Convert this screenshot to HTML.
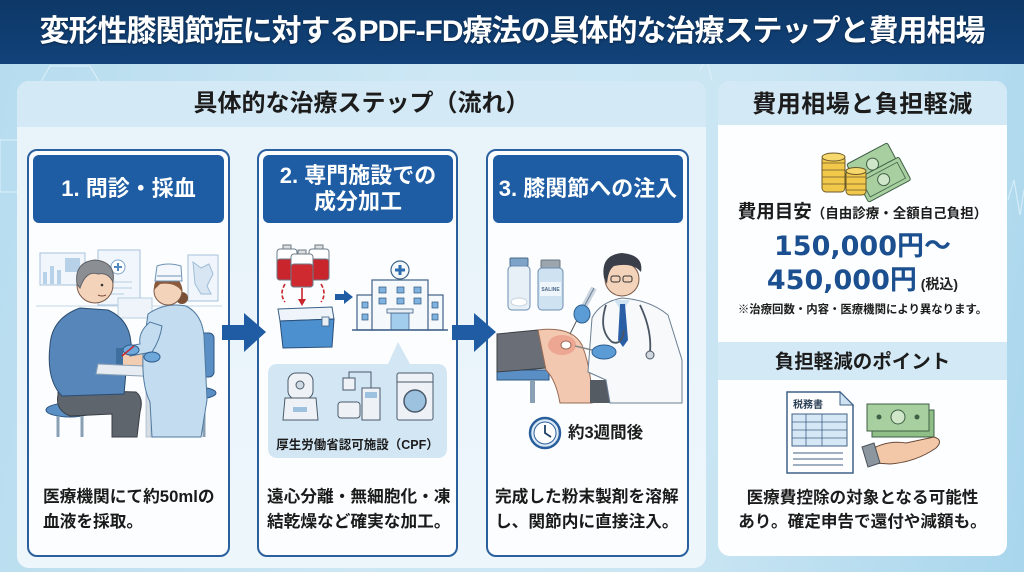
<!DOCTYPE html>
<html><head><meta charset="utf-8">
<style>
*{margin:0;padding:0;box-sizing:border-box}
html,body{width:1024px;height:572px;overflow:hidden}
body{position:relative;font-family:"Liberation Sans","Noto Sans CJK JP",sans-serif;font-weight:bold;color:#1c1c1c;
background:linear-gradient(100deg,#b6dcef 0%,#cde7f4 40%,#c9e5f3 70%,#a9d6ed 100%);}
.abs{position:absolute}
.title{left:0;top:0;width:1024px;height:64px;background:linear-gradient(180deg,#0d3867,#12427a);color:#fff;font-size:30px;line-height:64px;text-align:center;letter-spacing:-1px;text-shadow:0 1px 2px rgba(0,0,0,.4)}
.panel{border-radius:12px;overflow:hidden}
.card{background:#fbfdfe;border:2px solid #2b609f;border-radius:10px}
.chead{background:#1e5ca3;border-radius:6px;color:#fff;font-size:22px;text-align:center;display:flex;align-items:center;justify-content:center;line-height:26px}
.ctext{font-size:16.7px;line-height:25px;white-space:nowrap;color:#1a1a1a}
</style></head><body>

<svg class="abs" style="left:0;top:0" width="1024" height="572">
 <g fill="none" stroke="#e6f4fb" stroke-width="1.2" opacity=".7">
  <polygon points="50,66 90,66 105,92 90,118 50,118 35,92"/>
  <polygon points="0,140 20,140 35,166 20,192 0,192"/>
  <polyline points="1008,200 1014,180 1020,215 1024,190"/>
  <polyline points="700,70 706,58 712,80"/>
 </g>
</svg>

<div class="abs title">変形性膝関節症に対するPDF-FD療法の具体的な治療ステップと費用相場</div>

<!-- left panel -->
<div class="abs panel" style="left:17px;top:81px;width:689px;height:487px;background:linear-gradient(180deg,#e7f3fa,#edf6fb)">
 <div style="height:46px;background:#d3e9f5"></div>
</div>
<div class="abs" style="left:17px;top:81px;width:689px;height:46px;line-height:46px;text-align:center;font-size:24px">具体的な治療ステップ（流れ）</div>

<!-- right panel -->
<div class="abs panel" style="left:718px;top:81px;width:289px;height:475px;background:#fdfeff">
 <div style="height:44px;background:#d3e9f5"></div>
 <div style="position:absolute;left:0;top:261px;width:289px;height:38px;background:#d3e9f5"></div>
</div>
<div class="abs" style="left:718px;top:83px;width:289px;height:44px;line-height:44px;text-align:center;font-size:24px;letter-spacing:.5px">費用相場と負担軽減</div>

<!-- cards -->
<div class="abs card" style="left:27px;top:149px;width:203px;height:408px"></div>
<div class="abs card" style="left:257px;top:149px;width:201px;height:408px"></div>
<div class="abs card" style="left:486px;top:149px;width:203px;height:408px"></div>

<div class="abs chead" style="left:33px;top:155px;width:191px;height:68px">1. 問診・採血</div>
<div class="abs chead" style="left:263px;top:155px;width:190px;height:68px">2. 専門施設での<br>成分加工</div>
<div class="abs chead" style="left:493px;top:155px;width:190px;height:68px">3. 膝関節への注入</div>

<svg class="abs" style="left:0;top:0" width="1024" height="572">
 <!-- arrows -->
 <polygon points="222,325 244,325 244,313 266,332 244,352 244,340 222,340" fill="#1f5ca3"/>
 <polygon points="452,325 474,325 474,313 496,332 474,352 474,340 452,340" fill="#1f5ca3"/>

 <!-- ===== Card 1 scene ===== -->
 <g stroke="#a8c3dc" stroke-width="1" fill="#f0f6fb">
  <rect x="40" y="253" width="45" height="32"/>
  <rect x="98" y="250" width="42" height="55"/>
  <rect x="188" y="255" width="30" height="46"/>
 </g>
 <g fill="#b7d2e8">
  <rect x="43" y="272" width="4" height="12"/><rect x="50" y="266" width="4" height="18"/><rect x="57" y="270" width="4" height="14"/>
  <rect x="65" y="258" width="15" height="14"/>
 </g>
 <circle cx="118" cy="267" r="7" fill="#fff" stroke="#7fa6cb"/>
 <path d="M114 267h8M118 263v8" stroke="#4f87c0" stroke-width="2"/>
 <path d="M104 282h28M104 288h28M104 294h20" stroke="#b9cfe2"/>
 <path d="M193 262l8 6 8-4 4 10-6 12 4 8-10 0-6-10z" fill="#d7e6f2" stroke="#9fbdd8"/>
 <line x1="36" y1="306" x2="222" y2="306" stroke="#c6d7e6"/>
 <rect x="118" y="298" width="34" height="20" fill="#eef4f9" stroke="#b9cfe2"/>
 <!-- patient stool -->
 <ellipse cx="70" cy="410" rx="24" ry="7" fill="#5a8fc6" stroke="#2f5680"/>
 <path d="M58 416V437M82 416V437" stroke="#8aa0b5" stroke-width="3"/>
 <!-- pants -->
 <path d="M58 390L136 392Q144 398 140 412L137 437L112 437L112 414L70 416Q55 410 58 395Z" fill="#5f656d" stroke="#3a3f45"/>
 <!-- sweater -->
 <path d="M50 345Q52 318 80 308L108 310Q126 318 130 336L132 350L120 352L121 370L126 372L124 394L62 396Q46 380 50 345Z" fill="#5686ba" stroke="#2c4c70"/>
 <path d="M120 350L170 354L171 368L121 370Z" fill="#f2cdb2" stroke="#8a6a55"/>
 <rect x="116" y="348" width="7" height="23" fill="#3f6f9f"/>
 <ellipse cx="172" cy="362" rx="9" ry="7" fill="#f2cdb2" stroke="#8a6a55"/>
 <!-- patient head -->
 <circle cx="95" cy="285" r="18" fill="#f3d3ba" stroke="#7a5a48"/>
 <path d="M77 284Q74 262 95 260Q116 262 113 282Q108 272 98 274Q86 270 80 288Z" fill="#8b8e92" stroke="#5e6166"/>
 <circle cx="102" cy="285" r="1.3" fill="#333"/><path d="M98 295q4 2 8 0" stroke="#7a4a3a" fill="none"/>
 <!-- table -->
 <polygon points="98,364 188,368 186,378 96,374" fill="#e6ecf1" stroke="#8aa0b5"/>
 <rect x="146" y="377" width="5" height="60" fill="#d5dde5" stroke="#9aabbc" stroke-width=".6"/>
 <!-- nurse chair -->
 <rect x="196" y="333" width="18" height="44" rx="5" fill="#5a8fc6" stroke="#2f5680"/>
 <ellipse cx="196" cy="393" rx="20" ry="6" fill="#5a8fc6" stroke="#2f5680"/>
 <path d="M204 399V437" stroke="#8aa0b5" stroke-width="3"/>
 <!-- nurse body -->
 <path d="M148 314Q165 302 186 306Q202 314 204 336L207 400L201 437L152 437L150 402Q140 382 144 342Z" fill="#c3dcf0" stroke="#4f7aa0"/>
 <path d="M150 322Q138 332 140 344L128 346L130 356L152 352Q160 340 162 326Z" fill="#c3dcf0" stroke="#4f7aa0"/>
 <ellipse cx="131" cy="350" rx="8" ry="5" fill="#6ea8da" stroke="#2f5f8f"/>
 <ellipse cx="152" cy="357" rx="8" ry="5" fill="#6ea8da" stroke="#2f5f8f"/>
 <path d="M134 346L122 356" stroke="#c9252c" stroke-width="1.5"/>
 <!-- nurse head -->
 <circle cx="182" cy="298" r="6" fill="#7a4f35"/>
 <circle cx="168" cy="291" r="14" fill="#f3d3ba" stroke="#7a5a48"/>
 <path d="M154 290Q153 276 168 276Q182 276 182 292Q176 282 160 284Z" fill="#8a5a3c"/>
 <path d="M155 281L157 266Q168 262 181 266L182 281Z" fill="#f4f8fc" stroke="#6f93b6"/>
 <line x1="157" y1="276" x2="181" y2="276" stroke="#6f93b6"/>

 <!-- ===== Card 2 ===== -->
 <g stroke="#6b7a88" stroke-width="1">
  <rect x="277" y="249" width="20" height="31" rx="3" fill="#fff"/>
  <rect x="277" y="259" width="20" height="21" rx="3" fill="#c9252c"/>
  <rect x="309" y="249" width="20" height="31" rx="3" fill="#fff"/>
  <rect x="309" y="259" width="20" height="21" rx="3" fill="#c9252c"/>
  <rect x="291" y="254" width="22" height="33" rx="3" fill="#fff"/>
  <rect x="291" y="264" width="22" height="23" rx="3" fill="#cf2a30"/>
  <rect x="283" y="245" width="8" height="4" fill="#ddd"/><rect x="315" y="245" width="8" height="4" fill="#ddd"/><rect x="298" y="250" width="8" height="4" fill="#ddd"/>
 </g>
 <path d="M285 284Q279 294 285 302M321 284Q327 294 321 302" stroke="#c9252c" stroke-width="1.6" fill="none" stroke-dasharray="4 2"/>
 <line x1="302" y1="288" x2="302" y2="300" stroke="#c9252c" stroke-width="1.6"/>
 <polygon points="298,299 306,299 302,306" fill="#c9252c"/>
 <polygon points="278,309 332,307 334,319 280,321" fill="#eef4fa" stroke="#3a5f86"/>
 <polygon points="280,321 334,319 332,347 283,348" fill="#4d90d0" stroke="#2a4f78"/>
 <rect x="322" y="317" width="7" height="9" fill="#e8eef4" stroke="#3a5f86" stroke-width=".8"/>
 <polygon points="335,294 344,294 344,290 353,297 344,304 344,300 335,300" fill="#1f5ca3"/>
 <!-- hospital -->
 <g stroke="#3f6187" stroke-width="1.2" fill="#f6f9fc">
  <rect x="357" y="295" width="16" height="35"/>
  <rect x="427" y="295" width="16" height="35"/>
  <rect x="372" y="280" width="56" height="50"/>
  <circle cx="400" cy="270" r="9"/>
 </g>
 <path d="M395 270h10M400 265v10" stroke="#2f6db0" stroke-width="3"/>
 <g fill="#7fb2de" stroke="#2f5680" stroke-width=".7">
  <rect x="379" y="287" width="7" height="6"/><rect x="397" y="287" width="7" height="6"/><rect x="414" y="287" width="7" height="6"/>
  <rect x="379" y="298" width="7" height="6"/><rect x="397" y="298" width="7" height="6"/><rect x="414" y="298" width="7" height="6"/>
  <rect x="362" y="302" width="6" height="6"/><rect x="362" y="314" width="6" height="6"/>
  <rect x="432" y="302" width="6" height="6"/><rect x="432" y="314" width="6" height="6"/>
  <rect x="391" y="313" width="18" height="17" fill="#a3cdec"/>
 </g>
 <rect x="387" y="309" width="26" height="4" fill="#e8eef4" stroke="#3f6187" stroke-width=".8"/>
 <line x1="352" y1="330" x2="448" y2="330" stroke="#3f6187" stroke-width="1.5"/>
 <!-- CPF box -->
 <path d="M278 364L388 364L398 342L410 364L437 364Q447 364 447 374L447 448Q447 458 437 458L278 458Q268 458 268 448L268 374Q268 364 278 364Z" fill="#d2e6f4"/>
 <g stroke="#4b5a6a" stroke-width="1" fill="#eef2f6">
  <rect x="288" y="373" width="25" height="26" rx="8"/>
  <path d="M283 420L285 398L316 398L318 420Z"/>
  <rect x="338" y="402" width="22" height="16" rx="3"/>
  <rect x="362" y="388" width="18" height="32"/>
  <rect x="343" y="378" width="12" height="12"/>
  <rect x="397" y="373" width="36" height="47" rx="2"/>
 </g>
 <circle cx="300" cy="385" r="4" fill="#cfd9e3" stroke="#4b5a6a"/>
 <rect x="293" y="407" width="14" height="5" fill="#9cc2e0"/>
 <path d="M349 378V372H371V388" fill="none" stroke="#4b5a6a"/>
 <rect x="365" y="392" width="12" height="6" fill="#9cc2e0"/>
 <circle cx="415" cy="401" r="11" fill="#9cc2e0" stroke="#4b5a6a" stroke-width="1.5"/>
 <line x1="397" y1="382" x2="433" y2="382" stroke="#4b5a6a"/>

 <!-- ===== Card 3 ===== -->
 <rect x="510" y="258" width="18" height="8" rx="1" fill="#7da3c8" stroke="#4b6a8a"/>
 <rect x="508" y="266" width="22" height="44" rx="4" fill="#e8f0f7" stroke="#6b8db0"/>
 <ellipse cx="519" cy="302" rx="8" ry="4" fill="#fff" stroke="#c5d2de"/>
 <rect x="541" y="260" width="19" height="8" rx="1" fill="#9aa5ae" stroke="#6b7680"/>
 <rect x="538" y="268" width="25" height="42" rx="4" fill="#cfe2f1" stroke="#6b8db0"/>
 <rect x="540" y="282" width="21" height="14" fill="#eef5fb"/>
 <text x="550.5" y="291" font-size="5" text-anchor="middle" fill="#4b6a8a" font-family="Liberation Sans">SALINE</text>
 <!-- leg & bench -->
 <rect x="497" y="370" width="52" height="10" fill="#5a8fc6" stroke="#2f5680"/>
 <rect x="530" y="380" width="5" height="23" fill="#8aa0b5"/>
 <path d="M497 334L538 330Q548 340 546 368L497 372Z" fill="#6a6f77" stroke="#3d4147"/>
 <path d="M538 330Q572 326 582 345Q592 370 592 403L560 403Q556 380 546 370Z" fill="#f2c8b0" stroke="#9a6a55"/>
 <ellipse cx="562" cy="345" rx="14" ry="10" fill="#ea8a7a" opacity=".55"/>
 <ellipse cx="566" cy="345" rx="5" ry="4" fill="#fff" stroke="#9a6a55"/>
 <!-- doctor -->
 <path d="M590 380L665 380L665 403L590 403Z" fill="#555b63"/>
 <path d="M592 318Q600 302 622 298Q650 300 668 315L682 360L682 403L610 403L606 380L588 372Z" fill="#f7f9fb" stroke="#6b7f93"/>
 <path d="M614 300L622 312L630 300Z" fill="#cfe3f3"/>
 <polygon points="620,304 625,304 628,340 623,347 618,340" fill="#2a5fa6"/>
 <path d="M606 305Q598 330 612 342Q622 346 624 330M640 305Q652 330 650 352" stroke="#4a5563" stroke-width="1.8" fill="none"/>
 <circle cx="650" cy="355" r="4" fill="#cfd6dd" stroke="#4a5563"/>
 <circle cx="622" cy="279" r="17" fill="#f3d3ba" stroke="#7a5a48"/>
 <path d="M604 278Q600 255 622 253Q644 255 641 272Q633 262 614 266Q608 270 607 284Z" fill="#3a3e48"/>
 <rect x="611" y="276" width="9" height="6" rx="2" fill="none" stroke="#333"/>
 <rect x="623" y="276" width="9" height="6" rx="2" fill="none" stroke="#333"/>
 <line x1="578" y1="318" x2="594" y2="288" stroke="#c9d4de" stroke-width="6"/>
 <line x1="578" y1="318" x2="594" y2="288" stroke="#6b7f93" stroke-width="1"/>
 <line x1="578" y1="318" x2="570" y2="334" stroke="#555" stroke-width="1"/>
 <ellipse cx="582" cy="314" rx="8" ry="9" fill="#5b9bd6" stroke="#2f5f8f"/>
 <ellipse cx="604" cy="352" rx="12" ry="7" fill="#5b9bd6" stroke="#2f5f8f"/>
 <line x1="592" y1="350" x2="575" y2="346" stroke="#888" stroke-width="1.5"/>
 <!-- clock -->
 <circle cx="545" cy="433" r="15" fill="#dceaf6" stroke="#2a5f9e" stroke-width="2.5"/>
 <circle cx="545" cy="433" r="11" fill="#fff" stroke="#2a5f9e" stroke-width="1"/>
 <path d="M545 425V433L551 437" stroke="#1f3f66" stroke-width="1.8" fill="none"/>

 <!-- ===== Right panel icons ===== -->
 <g transform="rotate(-28 878 168)">
  <rect x="852" y="150" width="46" height="25" rx="2" fill="#a8cf9f" stroke="#3f5f46"/>
  <circle cx="875" cy="162" r="6" fill="#cfe6c8" stroke="#3f5f46"/>
 </g>
 <g transform="rotate(-28 885 180)">
  <rect x="860" y="166" width="48" height="26" rx="2" fill="#a8cf9f" stroke="#3f5f46"/>
  <rect x="864" y="170" width="40" height="18" fill="none" stroke="#3f5f46" stroke-width=".8"/>
  <circle cx="884" cy="179" r="6" fill="#cfe6c8" stroke="#3f5f46"/>
 </g>
 <rect x="822" y="156" width="23" height="36" rx="4" fill="#f2c84b" stroke="#6a5a2a"/>
 <path d="M822 163h23M822 170h23M822 177h23M822 184h23" stroke="#6a5a2a" stroke-width=".8"/>
 <ellipse cx="833.5" cy="157" rx="11.5" ry="4" fill="#f7d86c" stroke="#6a5a2a"/>
 <rect x="846" y="170" width="20" height="25" rx="4" fill="#f2c84b" stroke="#6a5a2a"/>
 <path d="M846 177h20M846 184h20M846 190h20" stroke="#6a5a2a" stroke-width=".8"/>
 <ellipse cx="856" cy="171" rx="10" ry="3.5" fill="#f7d86c" stroke="#6a5a2a"/>

 <path d="M787 392L840 392L853 405L853 473L787 473Z" fill="#fff" stroke="#3f6187" stroke-width="1.5"/>
 <path d="M840 392L840 405L853 405Z" fill="#cfe2f2" stroke="#3f6187"/>
 <text x="808" y="408" font-size="10" text-anchor="middle" fill="#2b3f55" font-family="Liberation Sans,Noto Sans CJK JP,sans-serif" font-weight="bold">税務書</text>
 <rect x="792" y="414" width="55" height="32" fill="#d6e8f6" stroke="#3f6187"/>
 <path d="M792 422h55M792 430h55M792 438h55M806 414v32M822 414v32" stroke="#3f6187" stroke-width=".8"/>
 <path d="M793 453h50M793 459h50M793 465h50" stroke="#3f6187" stroke-width="1"/>
 <rect x="872" y="410" width="62" height="27" fill="#8fbf86" stroke="#3f5f46"/>
 <rect x="867" y="404" width="62" height="27" fill="#a8cf9f" stroke="#3f5f46"/>
 <circle cx="898" cy="417" r="7" fill="#cfe6c8" stroke="#3f5f46"/>
 <circle cx="879" cy="417" r="2.5" fill="#3f5f46"/><circle cx="917" cy="417" r="2.5" fill="#3f5f46"/>
 <path d="M872 449Q888 440 906 443L934 437Q944 440 936 448Q916 462 890 464L875 463Z" fill="#f3c8a8" stroke="#6a4a3a"/>
 <polygon points="862,447 874,443 880,463 868,467" fill="#8c969f" stroke="#4a525a"/>
</svg>

<!-- card texts -->
<div class="abs ctext" style="left:43px;top:484px">医療機関にて約50mlの<br>血液を採取。</div>
<div class="abs ctext" style="left:267px;top:484px">遠心分離・無細胞化・凍<br>結乾燥など確実な加工。</div>
<div class="abs ctext" style="left:495px;top:484px">完成した粉末製剤を溶解<br>し、関節内に直接注入。</div>

<div class="abs" style="left:268px;top:435px;width:179px;text-align:center;font-size:12.5px;line-height:20px">厚生労働省認可施設（CPF）</div>
<div class="abs" style="left:568px;top:421px;font-size:16.5px;line-height:24px">約3週間後</div>

<!-- right panel texts -->
<div class="abs" style="left:718px;top:199px;width:289px;text-align:center;white-space:nowrap;line-height:26px"><span style="font-size:18.5px">費用目安</span><span style="font-size:13.5px">（自由診療・全額自己負担）</span></div>
<div class="abs" style="left:718px;top:226px;width:289px;text-align:center;white-space:nowrap;line-height:36px;color:#1b4f8f;font-size:27px;font-family:'DejaVu Sans','Noto Sans CJK JP',sans-serif">150,000<span style="font-family:'Noto Sans CJK JP',sans-serif">円〜</span></div>
<div class="abs" style="left:718px;top:260px;width:289px;text-align:center;white-space:nowrap;line-height:36px;color:#1b4f8f;font-size:27px;font-family:'DejaVu Sans','Noto Sans CJK JP',sans-serif">450,000<span style="font-family:'Noto Sans CJK JP',sans-serif">円</span><span style="font-size:14px;color:#222;font-family:'Liberation Sans','Noto Sans CJK JP',sans-serif"> (税込)</span></div>
<div class="abs" style="left:718px;top:301px;width:289px;text-align:center;white-space:nowrap;font-size:11.4px;line-height:18px">※治療回数・内容・医療機関により異なります。</div>

<div class="abs" style="left:718px;top:342px;width:289px;height:38px;line-height:40px;text-align:center;font-size:19.5px">負担軽減のポイント</div>
<div class="abs" style="left:718px;top:486px;width:289px;text-align:center;white-space:nowrap;font-size:16.6px;line-height:24px">医療費控除の対象となる可能性<br>あり。確定申告で還付や減額も。</div>

</body></html>
